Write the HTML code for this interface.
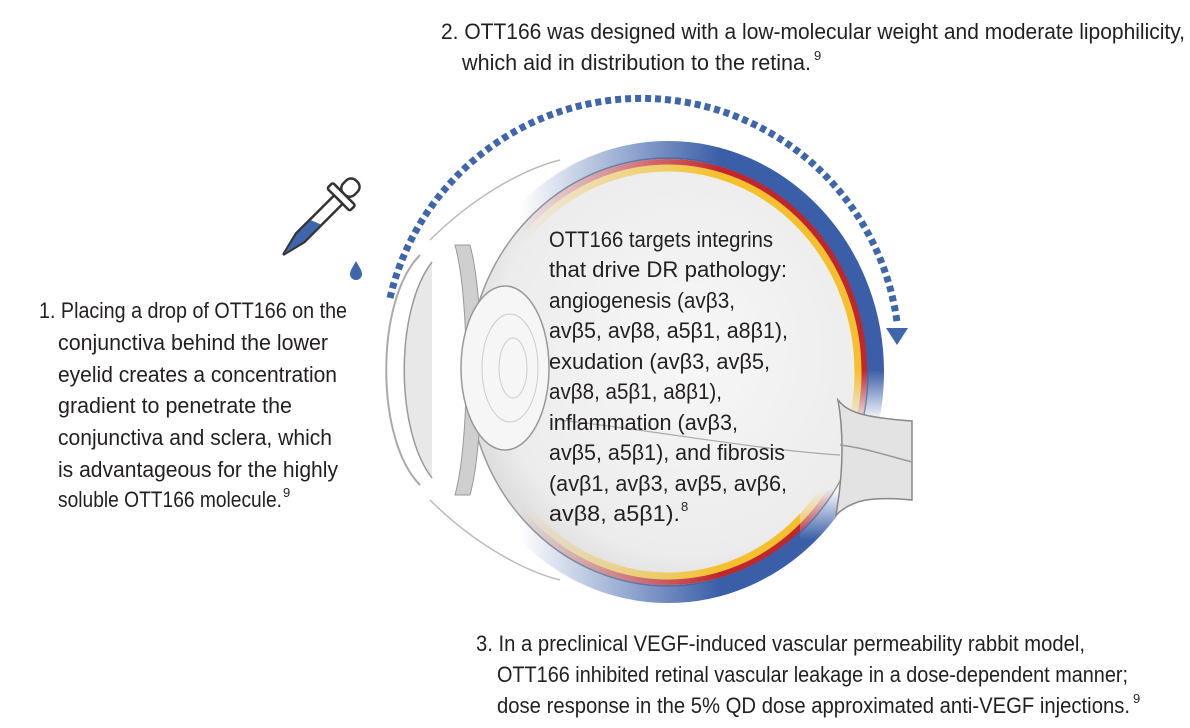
<!DOCTYPE html>
<html><head><meta charset="utf-8"><style>
html,body{margin:0;padding:0;background:#fff;}
svg{display:block;}
text{font-family:"Liberation Sans Narrow","Liberation Sans",sans-serif;font-size:22px;fill:#231f20;}
.s{font-size:13px;}
</style></head><body>
<svg width="1190" height="728" viewBox="0 0 1190 728" xmlns="http://www.w3.org/2000/svg">
<defs>
<radialGradient id="globe" cx="0.55" cy="0.45" r="0.6">
<stop offset="0" stop-color="#f7f7f7"/><stop offset="0.8" stop-color="#ececec"/><stop offset="1" stop-color="#d8d8d8"/>
</radialGradient>
<linearGradient id="fade" x1="0" y1="0" x2="1" y2="0">
<stop offset="0" stop-color="#fff" stop-opacity="0"/><stop offset="0.5" stop-color="#fff" stop-opacity="1"/>
</linearGradient>
<linearGradient id="vf" x1="0" y1="0" x2="0" y2="1">
<stop offset="0" stop-color="#000" stop-opacity="0"/><stop offset="0.3" stop-color="#000" stop-opacity="1"/><stop offset="0.7" stop-color="#000" stop-opacity="1"/><stop offset="1" stop-color="#000" stop-opacity="0"/>
</linearGradient>
<mask id="m" maskUnits="userSpaceOnUse" x="0" y="0" width="1190" height="728">
<rect x="0" y="0" width="1190" height="728" fill="#000"/>
<rect x="520" y="0" width="400" height="728" fill="url(#fade)"/>
<rect x="800" y="370" width="120" height="170" fill="url(#vf)"/>
</mask>
</defs>

<ellipse cx="668" cy="372" rx="200" ry="214" fill="url(#globe)" stroke="#9a9a9a" stroke-width="1.5"/>
<g mask="url(#m)" fill="none">
<ellipse cx="668" cy="372" rx="207" ry="222" stroke="#3a5ea8" stroke-width="18"/>
<ellipse cx="668" cy="372" rx="196" ry="210" stroke="#c0262d" stroke-width="6"/>
<ellipse cx="668" cy="372" rx="190" ry="204" stroke="#f4c02e" stroke-width="7"/>
</g>
<!-- optic nerve -->
<path d="M838 400 C848 412 860 417 912 421 L912 500 C870 496 852 500 836 515 C842 480 845 440 838 400 Z" fill="#e3e3e3" stroke="#888" stroke-width="1.5"/>
<path d="M840 445 C865 448 885 455 912 462" fill="none" stroke="#999" stroke-width="1.5"/>
<path d="M560 420 C650 430 760 450 840 455" fill="none" stroke="#aaa" stroke-width="1.2"/>
<!-- anterior -->
<path d="M420 255 C375 300 375 440 420 485" fill="none" stroke="#aaa" stroke-width="2"/>
<path d="M432 262 C395 310 395 430 432 478" fill="#e8e8e8" stroke="#999" stroke-width="1.5"/>
<path d="M455 245 C470 300 470 440 455 495 L470 495 C485 440 485 300 470 245 Z" fill="#cfcfcf" stroke="#999" stroke-width="1"/>
<ellipse cx="505" cy="368" rx="44" ry="82" fill="#f6f6f6" stroke="#999" stroke-width="1.5"/>
<ellipse cx="510" cy="368" rx="28" ry="54" fill="none" stroke="#ccc" stroke-width="1"/>
<ellipse cx="513" cy="368" rx="14" ry="30" fill="none" stroke="#ccc" stroke-width="1"/>
<path d="M430 240 C470 200 520 170 560 160" fill="none" stroke="#bbb" stroke-width="1.5"/>
<path d="M430 500 C470 540 520 570 560 580" fill="none" stroke="#bbb" stroke-width="1.5"/>

<!-- dotted arc -->
<path d="M390 298 A258 258 0 0 1 897 322" fill="none" stroke="#3f66ad" stroke-width="7" stroke-dasharray="6 4"/>
<polygon points="886,328 908,328 897,345" fill="#3f66ad"/>

<!-- dropper -->
<g transform="translate(320,218) rotate(45)">
<rect x="-8" y="-52" width="16" height="18" rx="7" fill="#fff" stroke="#333" stroke-width="2.5"/>
<rect x="-16" y="-34" width="32" height="8" rx="2" fill="#fff" stroke="#333" stroke-width="2.5"/>
<path d="M-6 -26 L-6 28 L0 52 L6 28 L6 -26 Z" fill="#fff" stroke="#333" stroke-width="2.5"/>
<path d="M-5 8 L-5 28 L0 50 L5 28 L5 4 Z" fill="#3f66ad"/>
</g>
<path d="M356 261 C352 268 350 271 350 274 A6 6 0 0 0 362 274 C362 271 360 268 356 261 Z" fill="#3f66ad"/>

<text x="441" y="39" textLength="744" lengthAdjust="spacingAndGlyphs">2. OTT166 was designed with a low-molecular weight and moderate lipophilicity,</text>
<text x="462" y="70" textLength="349" lengthAdjust="spacingAndGlyphs">which aid in distribution to the retina.</text>
<text x="814" y="60" class="s">9</text>

<text x="39" y="318" textLength="308" lengthAdjust="spacingAndGlyphs">1. Placing a drop of OTT166 on the</text>
<text x="58" y="350" textLength="270" lengthAdjust="spacingAndGlyphs">conjunctiva behind the lower</text>
<text x="58" y="382" textLength="279" lengthAdjust="spacingAndGlyphs">eyelid creates a concentration</text>
<text x="58" y="413" textLength="234" lengthAdjust="spacingAndGlyphs">gradient to penetrate the</text>
<text x="58" y="445" textLength="274" lengthAdjust="spacingAndGlyphs">conjunctiva and sclera, which</text>
<text x="58" y="477" textLength="280" lengthAdjust="spacingAndGlyphs">is advantageous for the highly</text>
<text x="58" y="507" textLength="224" lengthAdjust="spacingAndGlyphs">soluble OTT166 molecule.</text>
<text x="283" y="497" class="s">9</text>

<text x="549" y="247" textLength="224" lengthAdjust="spacingAndGlyphs">OTT166 targets integrins</text>
<text x="549" y="277" textLength="238" lengthAdjust="spacingAndGlyphs">that drive DR pathology:</text>
<text x="549" y="308" textLength="186" lengthAdjust="spacingAndGlyphs">angiogenesis (avβ3,</text>
<text x="549" y="338" textLength="239" lengthAdjust="spacingAndGlyphs">avβ5, avβ8, a5β1, a8β1),</text>
<text x="549" y="369" textLength="221" lengthAdjust="spacingAndGlyphs">exudation (avβ3, avβ5,</text>
<text x="549" y="399" textLength="173" lengthAdjust="spacingAndGlyphs">avβ8, a5β1, a8β1),</text>
<text x="549" y="430" textLength="189" lengthAdjust="spacingAndGlyphs">inflammation (avβ3,</text>
<text x="549" y="460" textLength="236" lengthAdjust="spacingAndGlyphs">avβ5, a5β1), and fibrosis</text>
<text x="549" y="491" textLength="238" lengthAdjust="spacingAndGlyphs">(avβ1, avβ3, avβ5, avβ6,</text>
<text x="549" y="521" textLength="131" lengthAdjust="spacingAndGlyphs">avβ8, a5β1).</text>
<text x="681" y="511" class="s">8</text>

<text x="476" y="651" textLength="609" lengthAdjust="spacingAndGlyphs">3. In a preclinical VEGF-induced vascular permeability rabbit model,</text>
<text x="497" y="682" textLength="631" lengthAdjust="spacingAndGlyphs">OTT166 inhibited retinal vascular leakage in a dose-dependent manner;</text>
<text x="497" y="713" textLength="633" lengthAdjust="spacingAndGlyphs">dose response in the 5% QD dose approximated anti-VEGF injections.</text>
<text x="1133" y="703" class="s">9</text>
</svg>
</body></html>
